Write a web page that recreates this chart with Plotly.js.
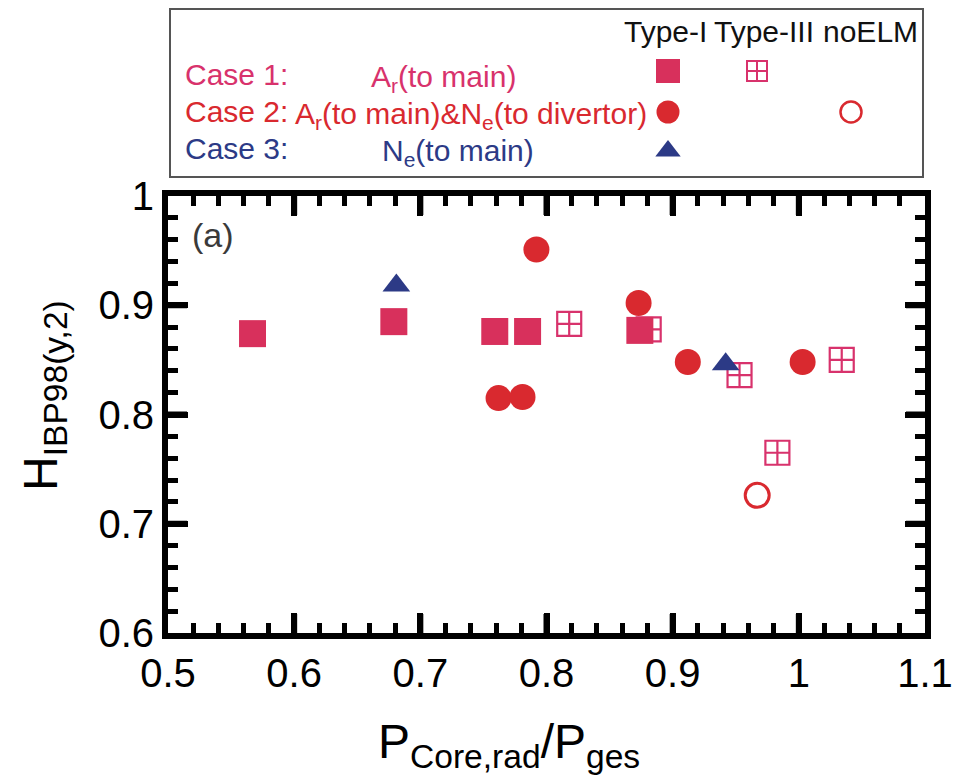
<!DOCTYPE html>
<html>
<head>
<meta charset="utf-8">
<script src="https://cdn.plot.ly/plotly-3.0.1.min.js"></script>
<style>html,body{margin:0;padding:0;background:#fff}#chart{width:957px;height:777px}</style>
</head>
<body>
<div id="chart"></div>
<script>
// ---- data ----
// Case 1: Ar (to main)
const case1TypeI_x   = [0.567, 0.679, 0.759, 0.785, 0.874];
const case1TypeI_y   = [0.874, 0.885, 0.876, 0.876, 0.877];
const case1TypeIII_x = [0.818, 0.881, 0.953, 0.983, 1.034];
const case1TypeIII_y = [0.883, 0.878, 0.836, 0.765, 0.850];
// Case 2: Ar (to main) & Ne (to divertor)
const case2TypeI_x   = [0.792, 0.762, 0.781, 0.873, 0.912, 1.003];
const case2TypeI_y   = [0.951, 0.815, 0.816, 0.902, 0.848, 0.848];
const case2NoELM_x   = [0.967];
const case2NoELM_y   = [0.726];
// Case 3: Ne (to main)
const case3TypeI_x   = [0.681, 0.942];
const case3TypeI_y   = [0.918, 0.846];

// axis ticks
const xTickVals = [0.5, 0.6, 0.7, 0.8, 0.9, 1.0, 1.1];
const xTickText = ['0.5', '0.6', '0.7', '0.8', '0.9', '1', '1.1'];
const yTickVals = [0.6, 0.7, 0.8, 0.9, 1.0];
const yTickText = ['0.6', '0.7', '0.8', '0.9', '1'];

const legendHeaders = ['Type-I', 'Type-III', 'noELM'];
const legendCases = ['Case 1:', 'Case 2:', 'Case 3:'];
const legendDesc = ['A<sub>r</sub>(to main)', 'A<sub>r</sub>(to main)&N<sub>e</sub>(to divertor)', 'N<sub>e</sub>(to main)'];

// ---- styles ----
const PINK = '#d8305c', RED = '#d9292f', NAVY = '#2c3a86', PINKL = '#d8326c';
const FONT = 'Liberation Sans, Arial, Helvetica, sans-serif';
const X0 = 0.5, X1 = 1.1, Y0 = 0.6, Y1 = 1.0;
const PLOT_W = 925 - 168, PLOT_H = 633 - 196;      // plot area in pixels
const MAJ = 19;                                     // major tick length in pixels
const dxTick = MAJ * (X1 - X0) / PLOT_W, dyTick = MAJ * (Y1 - Y0) / PLOT_H;

// major inside ticks on all four sides, built from the tick arrays
const tickX = [], tickY = [];
xTickVals.filter(v => v > X0 && v < X1).forEach(v => {
  tickX.push(v, v, null, v, v, null);
  tickY.push(Y0, Y0 + dyTick, null, Y1, Y1 - dyTick, null);
});
yTickVals.filter(v => v > Y0 && v < Y1).forEach(v => {
  tickX.push(X0, X0 + dxTick, null, X1, X1 - dxTick, null);
  tickY.push(v, v, null, v, v, null);
});

const traces = [
  {x: tickX, y: tickY, mode: 'lines', type: 'scatter', connectgaps: false, hoverinfo: 'skip',
   line: {color: '#000', width: 6}, cliponaxis: false},
  {x: case1TypeIII_x, y: case1TypeIII_y, mode: 'markers', type: 'scatter',
   marker: {symbol: 'square-cross-open', size: 24, color: PINKL, line: {width: 2.2, color: PINKL}}},
  {x: case1TypeI_x, y: case1TypeI_y, mode: 'markers', type: 'scatter',
   marker: {symbol: 'square', size: 27, color: PINK}},
  {x: case2NoELM_x, y: case2NoELM_y, mode: 'markers', type: 'scatter',
   marker: {symbol: 'circle-open', size: 24, color: RED, line: {width: 3, color: RED}}},
  {x: case2TypeI_x, y: case2TypeI_y, mode: 'markers', type: 'scatter',
   marker: {symbol: 'circle', size: 26, color: RED}},
  {x: case3TypeI_x, y: case3TypeI_y, mode: 'markers', type: 'scatter',
   marker: {symbol: 'triangle-up', size: 24, color: NAVY}},
  // legend symbols (drawn on a hidden helper axis covering the legend box)
  {x: [668], y: [71], xaxis: 'x2', yaxis: 'y2', mode: 'markers', type: 'scatter',
   marker: {symbol: 'square', size: 24, color: PINK}},
  {x: [757], y: [71], xaxis: 'x2', yaxis: 'y2', mode: 'markers', type: 'scatter',
   marker: {symbol: 'square-cross-open', size: 20, color: PINKL, line: {width: 2, color: PINKL}}},
  {x: [668], y: [112], xaxis: 'x2', yaxis: 'y2', mode: 'markers', type: 'scatter',
   marker: {symbol: 'circle', size: 23, color: RED}},
  {x: [851], y: [112], xaxis: 'x2', yaxis: 'y2', mode: 'markers', type: 'scatter',
   marker: {symbol: 'circle-open', size: 21, color: RED, line: {width: 2.5, color: RED}}},
  {x: [668], y: [151], xaxis: 'x2', yaxis: 'y2', mode: 'markers', type: 'scatter',
   marker: {symbol: 'triangle-up', size: 22, color: NAVY}}
];

const annotations = [];
const headerX = [665, 764, 870];
legendHeaders.forEach((t, i) => annotations.push({xref: 'x2', yref: 'y2', x: headerX[i], y: 31, text: t,
  showarrow: false, xanchor: 'center', yanchor: 'middle', font: {family: FONT, size: 30, color: '#111'}}));
const caseColors = [PINKL, RED, NAVY];
const rowY = [74, 111, 148];
legendCases.forEach((t, i) => annotations.push({xref: 'x2', yref: 'y2', x: 183, y: rowY[i], text: t,
  showarrow: false, xanchor: 'left', yanchor: 'middle', font: {family: FONT, size: 30, color: caseColors[i]}}));
const descX = [443, 471, 458];
legendDesc.forEach((t, i) => annotations.push({xref: 'x2', yref: 'y2', x: descX[i], y: rowY[i] + 4, text: t,
  showarrow: false, xanchor: 'center', yanchor: 'middle', font: {family: FONT, size: 30, color: caseColors[i]}}));

annotations.push({xref: 'paper', yref: 'paper', x: 190 / 957, y: 1 - 235 / 777, text: '(a)', showarrow: false,
  xanchor: 'left', yanchor: 'middle', font: {family: FONT, size: 34, color: '#3a3a3a'}});
annotations.push({xref: 'paper', yref: 'paper', x: 509 / 957, y: 1 - 745 / 777,
  text: 'P<sub>Core,rad</sub>/P<sub>ges</sub>', showarrow: false, xanchor: 'center', yanchor: 'middle',
  font: {family: FONT, size: 48, color: '#000'}});
annotations.push({xref: 'paper', yref: 'paper', x: 44 / 957, y: 1 - 396 / 777,
  text: 'H<sub>IBP98(y,2)</sub>', showarrow: false, textangle: -90, xanchor: 'center', yanchor: 'middle',
  font: {family: FONT, size: 48, color: '#000'}});

// map default tick strings to the labels from the arrays
const xAlias = {}; xTickVals.forEach((v, i) => { xAlias[String(v)] = xTickText[i]; });
const yAlias = {}; yTickVals.forEach((v, i) => { yAlias[String(v)] = yTickText[i]; });

const layout = {
  width: 957, height: 777,
  margin: {l: 0, r: 0, t: 0, b: 0},
  paper_bgcolor: '#fff', plot_bgcolor: '#fff',
  showlegend: false,
  xaxis: {
    domain: [168 / 957, 925 / 957], range: [X0, X1],
    tickmode: 'linear', tick0: xTickVals[0], dtick: xTickVals[1] - xTickVals[0], labelalias: xAlias,
    showline: true, linewidth: 6, linecolor: '#000', mirror: 'allticks',
    ticks: 'inside', ticklen: 20, tickwidth: 6, tickcolor: '#000',
    showgrid: false, zeroline: false, tickfont: {family: FONT, size: 40, color: '#000'},
    minor: {dtick: 0.02, ticks: 'inside', ticklen: 10, tickwidth: 5, tickcolor: '#000'}
  },
  yaxis: {
    domain: [(777 - 633) / 777, (777 - 196) / 777], range: [Y0, Y1],
    tickmode: 'linear', tick0: yTickVals[0], dtick: yTickVals[1] - yTickVals[0], labelalias: yAlias,
    showline: true, linewidth: 6, linecolor: '#000', mirror: 'allticks',
    ticks: 'inside', ticklen: 20, tickwidth: 6, tickcolor: '#000',
    showgrid: false, zeroline: false, tickfont: {family: FONT, size: 40, color: '#000'},
    minor: {dtick: 0.02, ticks: 'inside', ticklen: 10, tickwidth: 5, tickcolor: '#000'}
  },
  xaxis2: {domain: [168 / 957, 925 / 957], range: [168, 925], visible: false, fixedrange: true, anchor: 'y2'},
  yaxis2: {domain: [(777 - 178) / 777, (777 - 8) / 777], range: [178, 8], visible: false, fixedrange: true, anchor: 'x2'},
  shapes: [{type: 'rect', xref: 'x2', yref: 'y2', x0: 170, x1: 923, y0: 9, y1: 177,
            line: {color: '#555', width: 2}, fillcolor: 'rgba(0,0,0,0)'}],
  annotations: annotations
};

Plotly.newPlot('chart', traces, layout, {displayModeBar: false, staticPlot: true});
</script>
</body>
</html>
